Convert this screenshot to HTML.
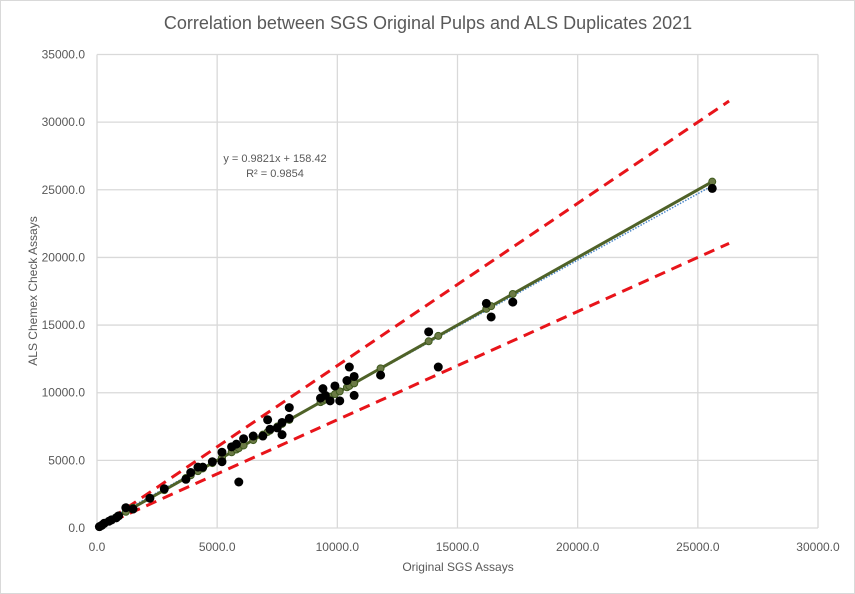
<!DOCTYPE html>
<html><head><meta charset="utf-8"><style>
html,body{margin:0;padding:0;background:#fff}
svg{display:block;font-family:"Liberation Sans",sans-serif}
</style></head><body>
<svg id="chart" width="855" height="594" viewBox="0 0 855 594" xmlns="http://www.w3.org/2000/svg">
<rect x="0.5" y="0.5" width="854" height="593" fill="#fff" stroke="#d9d9d9"/>
<text x="428" y="29" text-anchor="middle" font-size="18" fill="#595959">Correlation between SGS Original Pulps and ALS Duplicates 2021</text>
<g id="grid"></g><g id="ticks"></g><g id="marks"></g>
<text x="458" y="571" text-anchor="middle" font-size="12" fill="#595959">Original SGS Assays</text>
<text transform="translate(37,291) rotate(-90)" text-anchor="middle" font-size="12" fill="#595959">ALS Chemex Check Assays</text>
<text x="275" y="162" text-anchor="middle" font-size="11" fill="#595959">y = 0.9821x + 158.42</text>
<text x="275" y="177" text-anchor="middle" font-size="11" fill="#595959">R² = 0.9854</text>
</svg>
<script>
const xTicks=[0,5000,10000,15000,20000,25000,30000];
const yTicks=[0,5000,10000,15000,20000,25000,30000,35000];
const sgsX=[100,200,300,500,600,800,900,1200,1500,2200,2800,3700,3900,4200,4400,4800,5200,5200,5600,5800,5900,6100,6500,6900,7100,7200,7500,7700,7700,8000,8000,9300,9400,9500,9700,9900,10100,10400,10500,10700,10700,11800,13800,14200,16200,16400,17300,25600];
const alsY=[100,200,350,500,600,750,900,1500,1400,2200,2900,3600,4100,4500,4500,4900,5600,4900,6000,6200,3400,6600,6800,6800,8000,7300,7400,7800,6900,8900,8100,9600,10300,9800,9400,10500,9400,10900,11900,11200,9800,11300,14500,11900,16600,15600,16700,25100];
const slope=0.9821, intercept=158.42;
const bandHi=1.2, bandLo=0.8, bandEnd=26300;
const X=v=>97+v*(721/30000);
const Y=v=>528-v*(473.5/35000);
const NS="http://www.w3.org/2000/svg";
function mk(t,a,p){const e=document.createElementNS(NS,t);for(const k in a)e.setAttribute(k,a[k]);p.appendChild(e);return e;}
const grid=document.getElementById('grid'),ticks=document.getElementById('ticks'),marks=document.getElementById('marks');
xTicks.forEach(v=>{
 const l=mk('line',{x1:X(v),x2:X(v),y1:Y(35000),y2:Y(0),stroke:'#d9d9d9','stroke-width':1.3},grid);
 
 
 const t=mk('text',{x:X(v),y:551,'text-anchor':'middle','font-size':12,fill:'#595959'},ticks);t.textContent=v.toFixed(1);
 
 
});
yTicks.forEach(v=>{
 const l=mk('line',{x1:X(0),x2:X(30000),y1:Y(v),y2:Y(v),stroke:'#d9d9d9','stroke-width':1.3},grid);
 
 
 const t=mk('text',{x:85,y:Y(v)+4,'text-anchor':'end','font-size':12,fill:'#595959'},ticks);t.textContent=v.toFixed(1);
 
 
});
const up=mk('line',{x1:X(0),y1:Y(0),x2:X(bandEnd),y2:Y(bandEnd*bandHi),stroke:'#e8141a','stroke-width':3,'stroke-dasharray':'11 7'},marks);


const lo=mk('line',{x1:X(0),y1:Y(0),x2:X(bandEnd),y2:Y(bandEnd*bandLo),stroke:'#e8141a','stroke-width':3,'stroke-dasharray':'11 7'},marks);


const maxX=Math.max(...sgsX);
const tr=mk('line',{x1:X(0),y1:Y(intercept),x2:X(maxX),y2:Y(slope*maxX+intercept),stroke:'#4a86c8','stroke-width':1.5,'stroke-dasharray':'1.5 1.5'},marks);


const one=mk('line',{x1:X(0),y1:Y(0),x2:X(maxX),y2:Y(maxX),stroke:'#4f6228','stroke-width':3},marks);


sgsX.forEach(v=>{
 const c=mk('circle',{cx:X(v),cy:Y(v),r:3.5,fill:'#6b7a45',stroke:'#3f5a1e','stroke-width':1},marks);
 
 
});
sgsX.forEach((v,i)=>{
 const c=mk('circle',{cx:X(v),cy:Y(alsY[i]),r:4.5,fill:'#000'},marks);
 
 
});
</script>
</body></html>
